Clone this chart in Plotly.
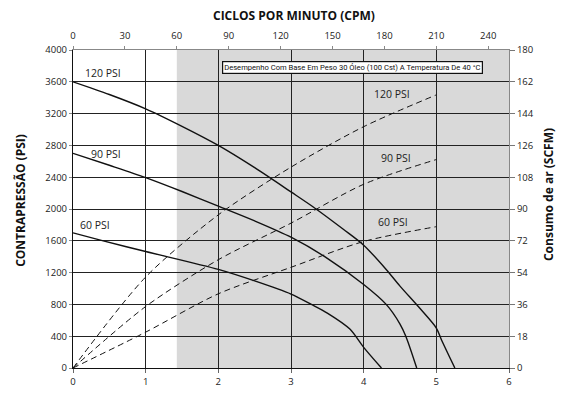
import plotly.graph_objects as go

# Solid curves: back pressure (PSI) vs flow (bottom axis)
x120 = [0, 0.5, 1, 1.5, 2, 2.5, 3, 3.33, 3.72, 4, 4.31, 4.5, 4.77, 5.0, 5.07, 5.255]
y120 = [3600, 3440, 3260, 3040, 2800, 2520, 2215, 2010, 1745, 1545, 1240, 1030, 754, 503, 356, 0]
x90 = [0, 0.5, 1, 1.5, 2, 2.5, 3, 3.5, 4, 4.31, 4.5, 4.58, 4.73]
y90 = [2700, 2550, 2395, 2220, 2035, 1850, 1645, 1380, 1050, 800, 553, 400, 0]
x60 = [0, 0.39, 1, 2, 2.5, 3, 3.28, 3.5, 3.81, 4, 4.245]
y60 = [1700, 1605, 1465, 1240, 1095, 930, 800, 691, 490, 260, 0]

# Dashed curves: air consumption (SCFM) vs flow
xd = [0, 1, 2, 3, 4, 5]
d120 = [0, 51.5, 86.7, 113.7, 136.6, 154.6]
d90 = [0, 34.8, 61.3, 82, 104, 118]
d60 = [0, 20.3, 42, 57, 71.6, 80]

psi_ticks = [0, 400, 800, 1200, 1600, 2000, 2400, 2800, 3200, 3600, 4000]
scfm_ticks = [0, 18, 36, 54, 72, 90, 108, 126, 144, 162, 180]
cpm_ticks = [0, 30, 60, 90, 120, 150, 180, 210, 240]
flow_ticks = [0, 1, 2, 3, 4, 5, 6]
cpm_max = 252
shade_start_cpm = 60

FONT = "Open Sans"
TXT = "#222"

fig = go.Figure()

solid = dict(color="#111", width=1.4, shape="spline", smoothing=0.8)
for xs, ys in [(x120, y120), (x90, y90), (x60, y60)]:
    fig.add_trace(go.Scatter(x=xs, y=ys, mode="lines", line=solid,
                             xaxis="x", yaxis="y", showlegend=False, hoverinfo="skip"))

dashed = dict(color="#111", width=1, dash="6px,4px", shape="spline", smoothing=0.8)
for ds in [d120, d90, d60]:
    fig.add_trace(go.Scatter(x=xd, y=ds, mode="lines", line=dashed,
                             xaxis="x", yaxis="y2", showlegend=False, hoverinfo="skip"))

# invisible trace to activate top axis
fig.add_trace(go.Scatter(x=[0, cpm_max], y=[0, 0], mode="lines", line=dict(width=0),
                         xaxis="x2", yaxis="y", showlegend=False, hoverinfo="skip", opacity=0))

fig.add_shape(type="rect", xref="x2", yref="y", x0=shade_start_cpm, x1=cpm_max, y0=0, y1=4000,
              fillcolor="#d9d9d9", line=dict(width=0), layer="below")

# curve labels
labels = [("120 PSI", 0.41, 3715), ("90 PSI", 0.45, 2693), ("60 PSI", 0.30, 1801),
          ("120 PSI", 4.39, 3447), ("90 PSI", 4.45, 2647), ("60 PSI", 4.41, 1842)]
for t, lx, ly in labels:
    fig.add_annotation(x=lx, y=ly, xref="x", yref="y", text=t, showarrow=False,
                       font=dict(family=FONT, size=10.5, color=TXT), xanchor="center", yanchor="middle")

fig.add_annotation(x=3.85, y=3786, xref="x", yref="y",
                   text="Desempenho Com Base Em Peso 30 Óleo (100 Cst) A Temperatura De 40 °C",
                   showarrow=False, font=dict(family="Liberation Sans Narrow, Roboto", size=7.6, color="#111"),
                   bgcolor="white", bordercolor="#111", borderwidth=1.2, borderpad=1,
                   xanchor="center", yanchor="middle")

# axis titles
fig.add_annotation(x=0.508, y=1.108, xref="paper", yref="paper", text="<b>CICLOS POR MINUTO (CPM)</b>",
                   showarrow=False, xanchor="center", yanchor="middle",
                   font=dict(family=FONT, size=12, color="#111"))
fig.add_annotation(x=-0.119, y=0.526, xref="paper", yref="paper", text="<b>CONTRAPRESSÃO (PSI)</b>",
                   showarrow=False, textangle=-90, xanchor="center", yanchor="middle",
                   font=dict(family=FONT, size=12, color="#111"))
fig.add_annotation(x=1.0895, y=0.544, xref="paper", yref="paper", text="<b>Consumo de ar (SCFM)</b>",
                   showarrow=False, textangle=-90, xanchor="center", yanchor="middle",
                   font=dict(family=FONT, size=12, color="#111"))

tickfont = dict(family=FONT, size=9.5, color=TXT)
fig.update_layout(
    width=563, height=396,
    margin=dict(l=73, r=54, t=50, b=28, autoexpand=False),
    paper_bgcolor="white", plot_bgcolor="white",
    font=dict(family=FONT),
    xaxis=dict(range=[0, 6], tickvals=flow_ticks, showgrid=True, gridcolor="#222", gridwidth=1.3,
               showline=True, linecolor="#111", linewidth=1.2, ticks="outside", ticklen=4,
               tickcolor="#666", tickfont=tickfont, zeroline=False, automargin=False),
    xaxis2=dict(range=[0, cpm_max], tickvals=cpm_ticks, overlaying="x", side="top", showgrid=False,
                showline=True, linecolor="#888", linewidth=1, ticks="outside", ticklen=3,
                tickcolor="#888", tickfont=tickfont, zeroline=False, anchor="y", automargin=False,
                ticklabelstandoff=3),
    yaxis=dict(range=[0, 4000], tickvals=psi_ticks, showgrid=True, gridcolor="#222", gridwidth=1.3,
               showline=True, linecolor="#111", linewidth=1.2, ticks="outside", ticklen=3,
               tickcolor="#888", tickfont=tickfont, zeroline=False, automargin=False),
    yaxis2=dict(range=[0, 180], tickvals=scfm_ticks, overlaying="y", side="right", showgrid=False,
                showline=True, linecolor="#888", linewidth=1, ticks="outside", ticklen=5,
                tickcolor="#777", tickfont=tickfont, zeroline=False, anchor="x", automargin=False),
)

fig.write_html("out.html", config={"displayModeBar": False},
               post_script="document.body.style.margin='0';document.body.style.overflow='hidden';")
